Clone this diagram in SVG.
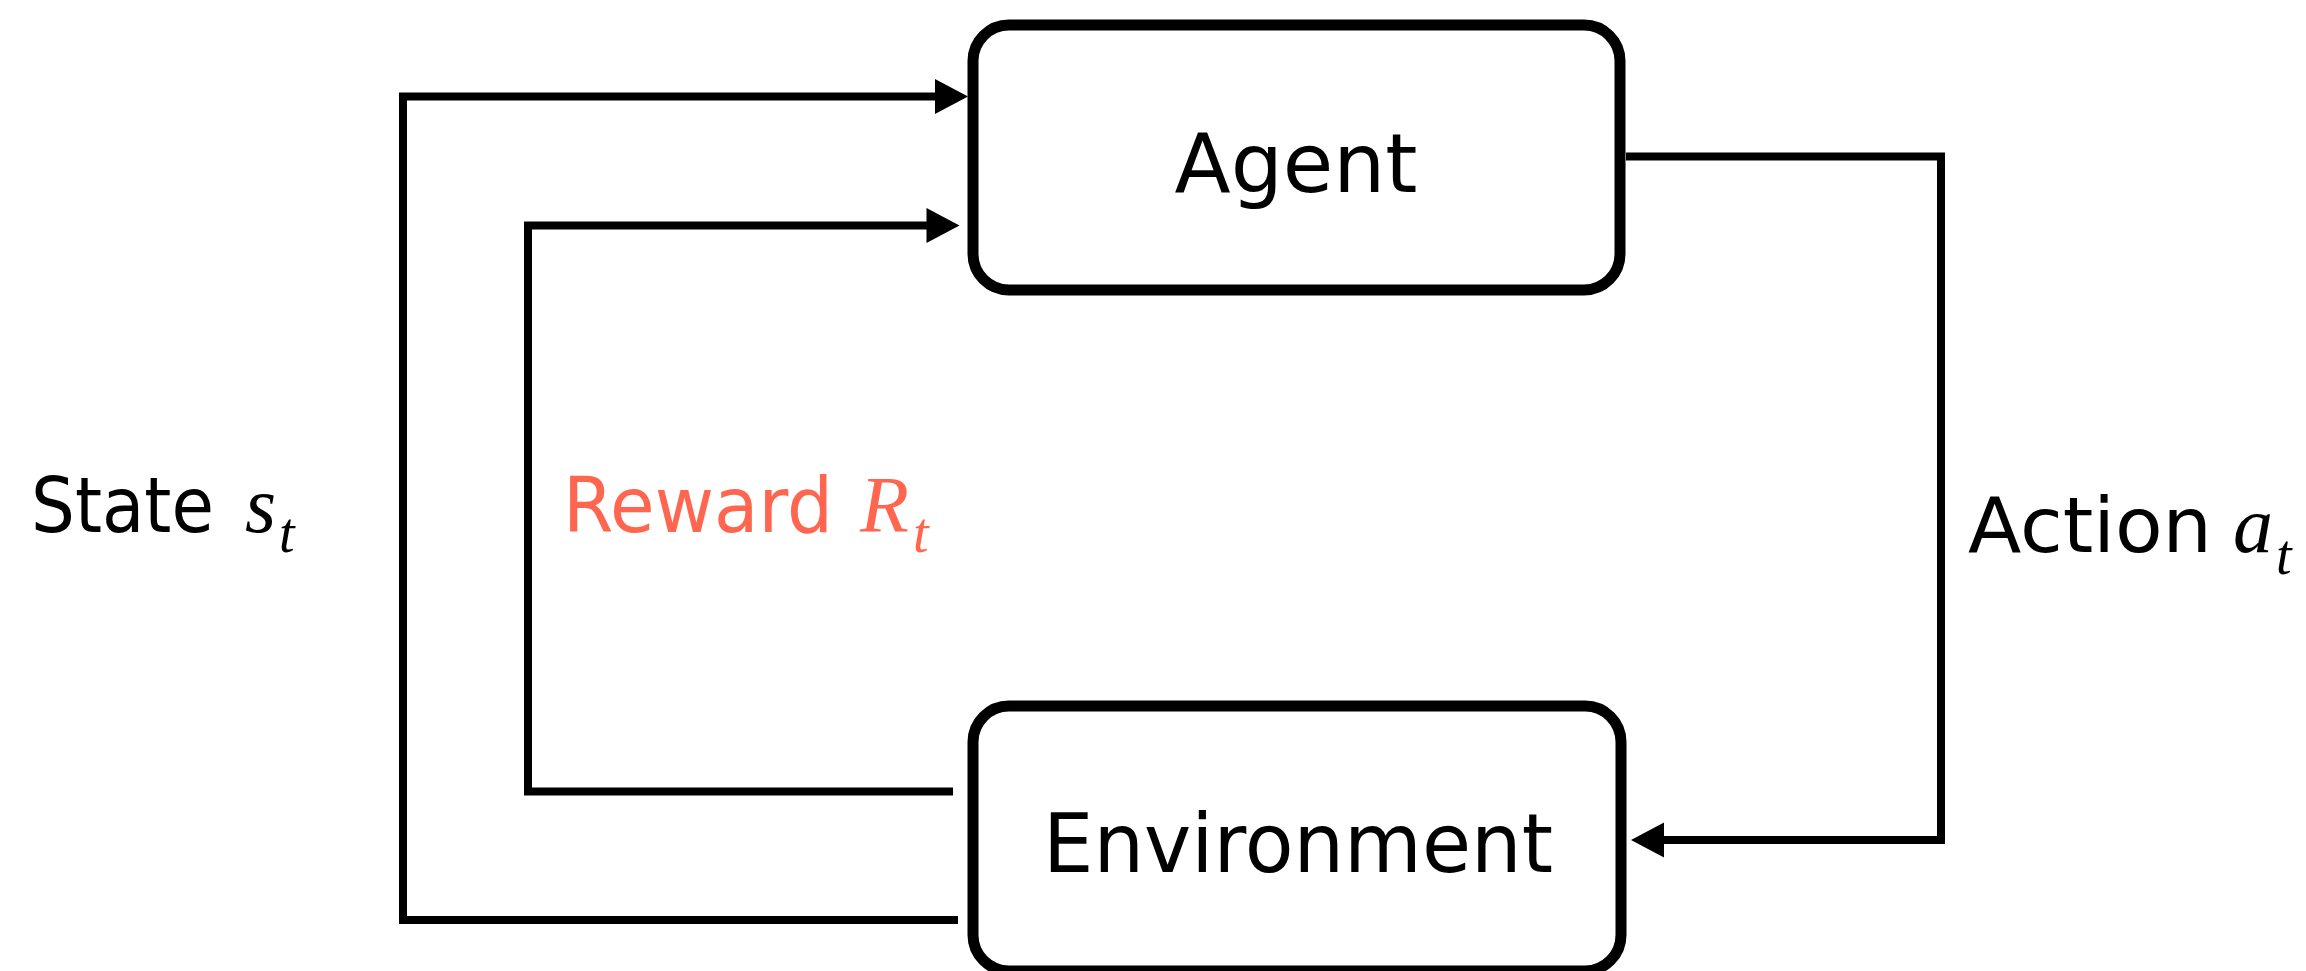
<svg xmlns="http://www.w3.org/2000/svg" width="2306" height="971" viewBox="0 0 2306 971">
<style>
.box{fill:#fff;stroke:#000;stroke-width:11}
.conn{fill:none;stroke:#000;stroke-width:8;stroke-linejoin:miter;stroke-linecap:butt}
.lbl{font-family:"DejaVu Sans","Liberation Sans",sans-serif;font-size:82px;fill:#000}
.side{font-size:77px}
.math{font-family:"Liberation Serif","DejaVu Serif",serif;font-style:italic;font-size:80px;fill:#000}
.sub{font-family:"Liberation Serif","DejaVu Serif",serif;font-style:italic;font-size:56px;fill:#000}
.red{fill:#FF6650}
</style>
<defs>
<marker id="arr" markerUnits="userSpaceOnUse" markerWidth="36" markerHeight="36" refX="2" refY="17.5" orient="auto" overflow="visible">
<path d="M0,0 L33,17.5 L0,35 Z" fill="#000"/>
</marker>
</defs>
<rect width="2306" height="971" fill="#fff"/>
<g id="connectors">
<path id="state" class="conn" d="M958,920 H403 V96.5 H937" marker-end="url(#arr)"/>
<path id="reward" class="conn" d="M953,791.5 H528 V225.5 H928.5" marker-end="url(#arr)"/>
<path id="action" class="conn" d="M1626,156.5 H1941 V840 H1662" marker-end="url(#arr)"/>
</g>
<g id="agent">
<rect class="box" x="973" y="25" width="647" height="265" rx="36" ry="36"/>
<text class="lbl" x="1296" y="192" text-anchor="middle" textLength="243" lengthAdjust="spacingAndGlyphs">Agent</text>
</g>
<g id="environment">
<rect class="box" x="973" y="706" width="648" height="265" rx="36" ry="36"/>
<text class="lbl" x="1298" y="872" text-anchor="middle" textLength="510" lengthAdjust="spacingAndGlyphs">Environment</text>
</g>
<g id="labels">
<text class="lbl side" x="31" y="532" textLength="183" lengthAdjust="spacingAndGlyphs">State</text>
<text class="math" x="245" y="532">s</text>
<text class="sub" x="279" y="552">t</text>
<text class="lbl side red" x="563" y="532" textLength="270" lengthAdjust="spacingAndGlyphs">Reward</text>
<text class="math red" x="860" y="532">R</text>
<text class="sub red" x="913" y="552">t</text>
<text class="lbl side" x="1968" y="552" textLength="244" lengthAdjust="spacingAndGlyphs">Action</text>
<text class="math" x="2233" y="552">a</text>
<text class="sub" x="2276" y="574">t</text>
</g>
</svg>
